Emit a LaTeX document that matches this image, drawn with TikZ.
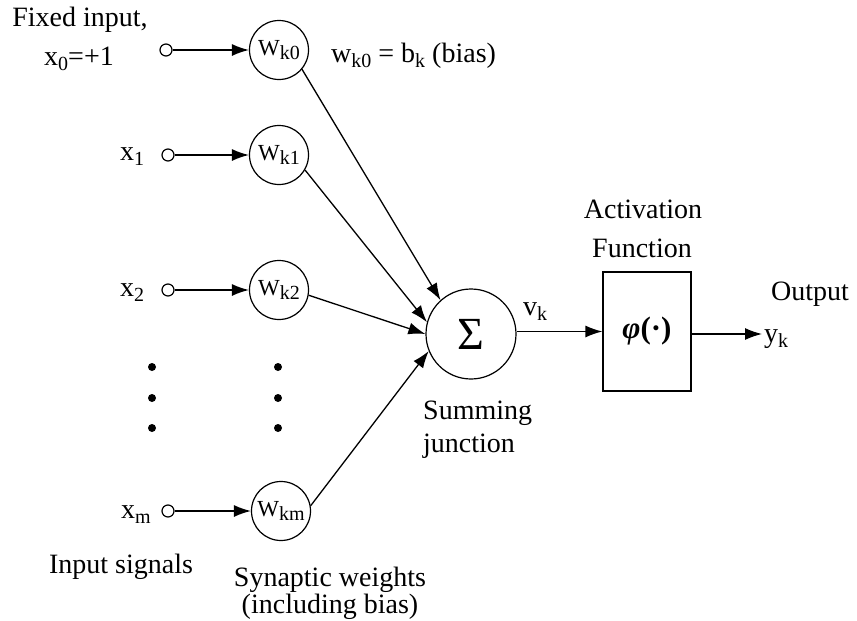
\documentclass[tikz,border=0pt]{standalone}
\usepackage{fontspec}
\setmainfont{Liberation Serif}
\usetikzlibrary{arrows.meta}
\newcommand{\sbs}[1]{\raisebox{-5pt}{\fontsize{20}{20}\selectfont #1}}
\newcommand{\sbw}[1]{\raisebox{-4pt}{\fontsize{20}{20}\selectfont #1}}
\tikzset{
  lbl/.style={font=\fontsize{28}{33}\selectfont, inner sep=0pt, anchor=base},
  inpt/.style={circle, draw, line width=1.2pt, minimum size=12pt, inner sep=0pt},
  wgt/.style={circle, draw, line width=1.2pt, minimum size=59pt, inner sep=0pt, font=\fontsize{23}{23}\selectfont},
  arr/.style={line width=1.3pt, -{Latex[length=17pt,width=12pt]}},
  dotm/.style={circle, fill, minimum size=8pt, inner sep=0pt}
}
\begin{document}
\begin{tikzpicture}[x=1pt,y=-1pt]
\useasboundingbox (0,0) rectangle (857,621);
% labels left
\node[lbl] (lfixed) at (80,27) {Fixed input,};
\node[lbl] (lx0) at (79,65) {x\sbs{0}=+1};
\node[lbl] (lx1) at (132,160) {x\sbs{1}};
\node[lbl] (lx2) at (132,296) {x\sbs{2}};
\node[lbl] (lxm) at (136,518) {x\sbs{m}};
% input circles
\node[inpt] (in0) at (166,50) {};
\node[inpt] (in1) at (168,155) {};
\node[inpt] (in2) at (168,290) {};
\node[inpt] (inm) at (168,511) {};
% weights
\node[wgt] (w0) at (279,50) {W\sbw{k0}};
\node[wgt] (w1) at (279,155) {W\sbw{k1}};
\node[wgt] (w2) at (279,290) {W\sbw{k2}};
\node[wgt] (wm) at (281,511) {W\sbw{km}};
\node[lbl, anchor=base west] (lbias) at (331,62) {w\sbs{k0} = b\sbs{k} (bias)};
% dots
\foreach \yy [count=\i] in {367,398,428}{
  \node[dotm] (da\i) at (152,\yy) {};
  \node[dotm] (db\i) at (278,\yy) {};
}
% input arrows
\draw[arr] (in0) -- (w0);
\draw[arr] (in1) -- (w1);
\draw[arr] (in2) -- (w2);
\draw[arr] (inm) -- (wm);
% summing junction
\node[circle, draw, line width=1.2pt, minimum size=90pt, inner sep=0pt, font=\fontsize{46}{46}\selectfont] (sig) at (471,334) {Σ};
\draw[arr] (w0.-40) -- (sig.132);
\draw[arr] (w1.-30) -- (sig.165);
\draw[arr] (w2.-10) -- (sig.180);
\draw[arr] (wm.10) -- (sig.202);
\node[lbl, anchor=base west] (lsum1) at (423,419) {Summing};
\node[lbl, anchor=base west] (lsum2) at (423,452) {junction};
\node[lbl] (lvk) at (535,315) {v\sbs{k}};
% activation
\node[draw, line width=1.2pt, minimum width=88pt, minimum height=119pt, inner sep=0pt, font=\fontsize{31}{31}\selectfont\bfseries] (act) at (647,331.5) {\textit{φ}(·)};
\node[lbl] (lact1) at (643,218) {Activation};
\node[lbl] (lact2) at (642,257) {Function};
\draw[arr] (sig.east |- act.west) -- (act.west);
\coordinate (yend) at (762,334);
\draw[arr] (act.east |- yend) -- (yend);
\node[lbl, anchor=base west] (lyk) at (764,342) {y\sbs{k}};
\node[lbl] (lout) at (810,300) {Output};
% bottom labels
\node[lbl] (linsig) at (121,573) {Input signals};
\node[lbl] (lsyn1) at (330,586) {Synaptic weights};
\node[lbl] (lsyn2) at (330,613) {(including bias)};
\end{tikzpicture}
\end{document}
